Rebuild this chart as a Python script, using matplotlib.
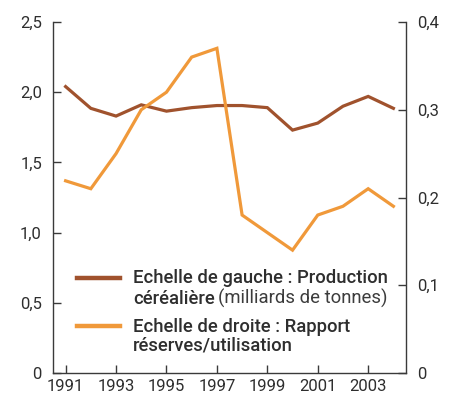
import numpy as np
import matplotlib.pyplot as plt
from matplotlib.offsetbox import (AnchoredOffsetbox, DrawingArea, HPacker,
                                  TextArea, VPacker)
from matplotlib.lines import Line2D

years = np.arange(1991, 2005)
production = [2.04, 1.885, 1.83, 1.91, 1.865, 1.89, 1.905, 1.905, 1.89,
              1.73, 1.78, 1.90, 1.97, 1.885]
ratio = [0.219, 0.21, 0.25, 0.30, 0.32, 0.36, 0.37, 0.18, 0.16,
         0.14, 0.18, 0.19, 0.21, 0.19]

left_ticks = [0, 0.5, 1.0, 1.5, 2.0, 2.5]
right_ticks = [0, 0.1, 0.2, 0.3, 0.4]
year_ticks = [1991, 1993, 1995, 1997, 1999, 2001, 2003]

brown = "#a0522d"
orange = "#f0993a"
axcol = "#3a3a3a"
txtcol = "#2e2e2e"
font = "Roboto"

plt.rcParams["font.family"] = [font, "DejaVu Sans"]

fig = plt.figure(figsize=(4.55, 4.0), dpi=100)
ax = fig.add_axes([53 / 455, 27 / 400, 353 / 455, 351 / 400])
ax2 = ax.twinx()

ax.plot(years, production, color=brown, lw=2.3, solid_joinstyle="miter")
ax2.plot(years, ratio, color=orange, lw=2.3, solid_joinstyle="miter")

ax.set_xlim(1990.5, 2004.5)
ax.set_ylim(0, 2.5)
ax2.set_ylim(0, 0.4)

ax.set_yticks(left_ticks)
ax.set_yticklabels(["0", "0,5", "1,0", "1,5", "2,0", "2,5"])
ax2.set_yticks(right_ticks)
ax2.set_yticklabels(["0", "0,1", "0,2", "0,3", "0,4"])
ax.set_xticks(year_ticks)
ax.set_xticklabels([str(y) for y in year_ticks])

for a in (ax, ax2):
    a.spines["top"].set_visible(False)
    for s in a.spines.values():
        s.set_color(axcol)
        s.set_linewidth(1.0)
    a.tick_params(direction="in", length=6, width=1.0, color=axcol,
                  labelsize=12, labelcolor=txtcol, pad=8)
ax2.spines["left"].set_visible(False)
ax2.spines["bottom"].set_visible(False)
ax.spines["right"].set_visible(False)
ax.tick_params(axis="x", pad=4)

# custom legend with mixed weights
def handle(color):
    da = DrawingArea(31, 10, 0, 0)
    da.add_artist(Line2D([0, 31], [4, 4], color=color, lw=3.2))
    return da

fs = 13.3
tp = dict(color=txtcol, fontsize=fs, fontweight="medium", family=[font, "DejaVu Sans"])
tn = dict(color="#3c3c3c", fontsize=fs, fontweight="normal", family=[font, "DejaVu Sans"])

row1_text = VPacker(children=[
    TextArea("Echelle de gauche : Production", textprops=tp),
    HPacker(children=[TextArea("céréalière", textprops=tp),
                      TextArea("(milliards de tonnes)", textprops=tn)],
            sep=2, align="baseline"),
], sep=1, align="left")
row2_text = VPacker(children=[
    TextArea("Echelle de droite : Rapport", textprops=tp),
    TextArea("réserves/utilisation", textprops=tp),
], sep=1, align="left")

row1 = HPacker(children=[VPacker(children=[handle(brown)], pad=0, sep=0), row1_text],
               sep=9.5, align="top")
row2 = HPacker(children=[VPacker(children=[handle(orange)], pad=0, sep=0), row2_text],
               sep=9.5, align="top")
box = VPacker(children=[row1, row2], sep=7, align="left")
anchored = AnchoredOffsetbox(loc="lower left", child=box, frameon=False,
                             bbox_to_anchor=(77 / 455, 45 / 400),
                             bbox_transform=fig.transFigure, borderpad=0, pad=0)
ax2.add_artist(anchored)

fig.savefig("out.png", dpi=100)
